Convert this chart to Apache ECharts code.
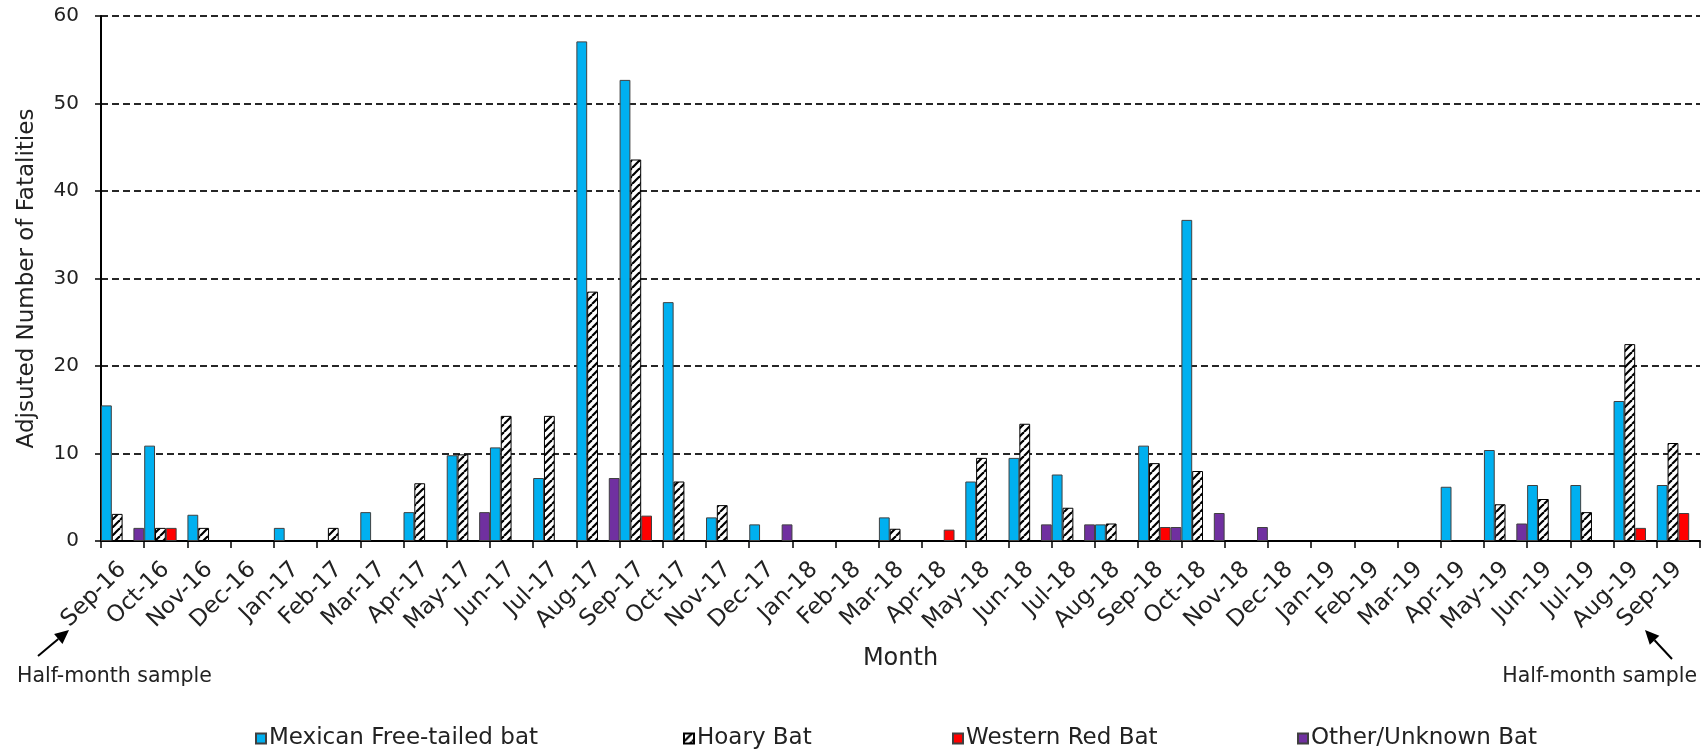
<!DOCTYPE html>
<html>
<head>
<meta charset="utf-8">
<script src="https://cdn.jsdelivr.net/npm/echarts@6/dist/echarts.min.js"></script>
<style>
  html, body { margin: 0; padding: 0; background: #fff; }
  #chart { width: 1705px; height: 755px; }
</style>
</head>
<body>
<div id="chart"></div>
<script>
// ---- Data ----
const categories = ['Sep-16','Oct-16','Nov-16','Dec-16','Jan-17','Feb-17','Mar-17','Apr-17','May-17','Jun-17','Jul-17','Aug-17',
  'Sep-17','Oct-17','Nov-17','Dec-17','Jan-18','Feb-18','Mar-18','Apr-18','May-18','Jun-18','Jul-18','Aug-18',
  'Sep-18','Oct-18','Nov-18','Dec-18','Jan-19','Feb-19','Mar-19','Apr-19','May-19','Jun-19','Jul-19','Aug-19','Sep-19'];

const mexicanFreeTailed = [15.5, 10.9, 3.0, null, 1.5, null, 3.3, 3.3, 9.8, 10.7, 7.2, 57.1,
  52.7, 27.3, 2.7, 1.9, null, null, 2.7, null, 6.8, 9.5, 7.6, 1.9,
  10.9, 36.7, null, null, null, null, null, 6.2, 10.4, 6.4, 6.4, 16.0, 6.4];

const hoaryBat = [3.1, 1.5, 1.5, null, null, 1.5, null, 6.6, 9.9, 14.3, 14.3, 28.5,
  43.6, 6.8, 4.1, null, null, null, 1.4, null, 9.5, 13.4, 3.8, 2.0,
  8.9, 8.0, null, null, null, null, null, null, 4.2, 4.8, 3.3, 22.5, 11.2];

const westernRedBat = [null, 1.5, null, null, null, null, null, null, null, null, null, null,
  2.9, null, null, null, null, null, null, 1.3, null, null, null, null,
  1.6, null, null, null, null, null, null, null, null, null, null, 1.5, 3.2];

const otherUnknownBat = [1.5, null, null, null, null, null, null, null, 3.3, null, null, 7.2,
  null, null, null, 1.9, null, null, null, null, null, 1.9, 1.9, null,
  1.6, 3.2, 1.6, null, null, null, null, null, 2.0, null, null, null, null];

const seriesNames = ['Mexican Free-tailed bat', 'Hoary Bat', 'Western Red Bat', 'Other/Unknown Bat'];
const yTicks = { min: 0, max: 60, interval: 10 };

// ---- Styling ----
const FONT = 'DejaVu Sans';
const TEXT = '#222';

function hatchPattern() {
  const c = document.createElement('canvas');
  c.width = 8; c.height = 8;
  const g = c.getContext('2d');
  g.fillStyle = '#fff';
  g.fillRect(0, 0, 8, 8);
  g.strokeStyle = '#000';
  g.lineWidth = 2.2;
  [-8, 0, 8].forEach(function (k) {
    g.beginPath(); g.moveTo(k, 8); g.lineTo(k + 8, 0); g.stroke();
  });
  return c;
}

const chart = echarts.init(document.getElementById('chart'), null, { renderer: 'canvas' });

function arrow(tail, tip) {
  const dx = tip[0] - tail[0], dy = tip[1] - tail[1];
  const L = Math.sqrt(dx * dx + dy * dy);
  const ux = dx / L, uy = dy / L;
  const hl = 14, hw = 6.5;
  const bx = tip[0] - ux * hl, by = tip[1] - uy * hl;
  const px = -uy, py = ux;
  return [
    { type: 'line', shape: { x1: tail[0], y1: tail[1], x2: bx, y2: by }, style: { stroke: '#000', lineWidth: 2 } },
    { type: 'polygon', shape: { points: [tip, [bx + px * hw, by + py * hw], [bx - px * hw, by - py * hw]] }, style: { fill: '#000' } }
  ];
}

const colors = ['#00B0F0', { image: hatchPattern(), repeat: 'repeat' }, '#FF0000', '#7030A0'];
const borders = ['#404040', '#000', '#404040', '#404040'];
const dataSets = [mexicanFreeTailed, hoaryBat, westernRedBat, otherUnknownBat];
const legendLefts = [255, 683, 952, 1297];

const option = {
  animation: false,
  backgroundColor: '#fff',
  textStyle: { fontFamily: FONT },
  grid: { left: 101, right: 5, top: 16, bottom: 214, containLabel: false },
  legend: seriesNames.map(function (n, i) {
    return {
      data: [n], left: legendLefts[i], top: 727, padding: 0,
      itemWidth: 10, itemHeight: 10, icon: 'rect',
      textStyle: { fontFamily: FONT, fontSize: 23, color: TEXT, padding: [0, 0, 0, -2] }
    };
  }),
  xAxis: {
    type: 'category',
    data: categories,
    boundaryGap: true,
    name: 'Month',
    nameLocation: 'middle',
    nameGap: 106,
    nameTextStyle: { fontFamily: FONT, fontSize: 24, color: TEXT },
    axisLine: { show: true, lineStyle: { color: '#000', width: 2 } },
    axisTick: { show: true, alignWithLabel: false, interval: 0, length: 7, lineStyle: { color: '#000', width: 1.5 } },
    axisLabel: { interval: 0, rotate: 45, margin: 25, fontFamily: FONT, fontSize: 23, color: TEXT },
    splitLine: { show: false }
  },
  yAxis: {
    type: 'value',
    min: yTicks.min, max: yTicks.max, interval: yTicks.interval,
    name: 'Adjsuted Number of Fatalities',
    nameLocation: 'middle',
    nameGap: 62,
    nameRotate: 90,
    nameTextStyle: { fontFamily: FONT, fontSize: 23, color: TEXT },
    axisLine: { show: true, lineStyle: { color: '#000', width: 2 } },
    axisTick: { show: true, length: 6, lineStyle: { color: '#000', width: 1.5 } },
    axisLabel: { margin: 22, fontFamily: FONT, fontSize: 20, color: TEXT },
    splitLine: { show: true, lineStyle: { color: '#262626', width: 2, type: [7, 4] } }
  },
  series: seriesNames.map(function (n, i) {
    return {
      name: n, type: 'bar', data: dataSets[i],
      barGap: '0%', barCategoryGap: '0%',
      itemStyle: { color: colors[i], borderColor: borders[i], borderWidth: 1 },
      emphasis: { disabled: true }
    };
  }),
  graphic: [].concat(
    arrow([38, 656], [69, 630]),
    arrow([1672, 659], [1645, 630]),
    [
      { type: 'text', left: 17, top: 666, style: { text: 'Half-month sample', font: '20.5px "DejaVu Sans"', fill: TEXT } },
      { type: 'text', right: 8, top: 666, style: { text: 'Half-month sample', font: '20.5px "DejaVu Sans"', fill: TEXT } }
    ]
  )
};

chart.setOption(option);
</script>
</body>
</html>
